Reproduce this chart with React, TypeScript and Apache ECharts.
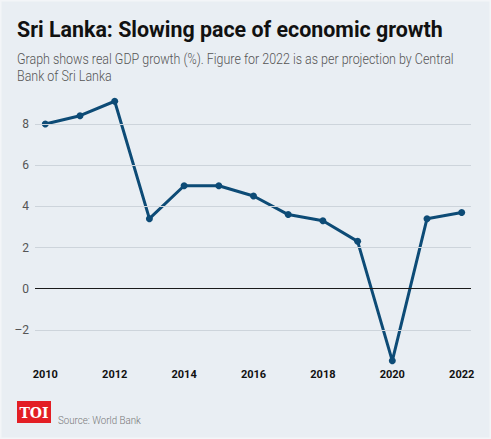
import React, { useEffect, useRef } from "react";
import * as echarts from "echarts";

const years = [2010, 2011, 2012, 2013, 2014, 2015, 2016, 2017, 2018, 2019, 2020, 2021, 2022];
const growth = [8.0, 8.4, 9.1, 3.4, 5.0, 5.0, 4.5, 3.6, 3.3, 2.3, -3.5, 3.4, 3.7];
const yTicks = [-2, 0, 2, 4, 6, 8];
const xTicks = [2010, 2012, 2014, 2016, 2018, 2020, 2022];

const TITLE = "Sri Lanka: Slowing pace of economic growth";
const SUB1 = "Graph shows real GDP growth (%). Figure for 2022 is as per projection by Central";
const SUB2 = "Bank of Sri Lanka";
const SOURCE = "Source: World Bank";

function measure(text: string, font: string): number {
  const c = document.createElement("canvas");
  const ctx = c.getContext("2d");
  if (!ctx) return 1;
  ctx.font = font;
  return ctx.measureText(text).width || 1;
}

export default function App() {
  const ref = useRef<HTMLDivElement>(null);
  useEffect(() => {
    if (!ref.current) return;
    const chart = echarts.init(ref.current, undefined, { renderer: "svg" });
    const titleFont = "bold 22px Roboto";
    const subFont = "300 15px Roboto";
    const srcFont = "300 11px Roboto";
    const titleScale = 426 / measure(TITLE, titleFont);
    const subScale = 437 / measure(SUB1, subFont);
    const srcScale = 83 / measure(SOURCE, srcFont);

    chart.setOption({
      animation: false,
      backgroundColor: "#e9eef3",
      grid: { left: 35, width: 436, top: 88.9, height: 278.1 },
      xAxis: {
        type: "value",
        min: 2009.703,
        max: 2022.268,
        axisLine: { show: false },
        axisTick: { show: false },
        splitLine: { show: false },
        axisLabel: {
          customValues: xTicks,
          formatter: (v: number) => String(v),
          color: "#111",
          fontWeight: "bold",
          fontSize: 11,
          fontFamily: "Roboto",
          margin: 2,
        },
      },
      yAxis: {
        type: "value",
        min: -3.8,
        max: 9.7,
        axisLine: { show: false },
        axisTick: { show: false },
        splitLine: { show: false },
        axisLabel: {
          customValues: yTicks,
          formatter: (v: number) => (v < 0 ? "\u2013" + Math.abs(v) : String(v)),
          color: "#555",
          fontSize: 12,
          fontFamily: "Roboto",
          margin: 6,
        },
      },
      series: [
        {
          type: "line",
          z: 1,
          data: [],
          silent: true,
          markLine: {
            silent: true,
            symbol: ["none", "none"],
            label: { show: false },
            data: yTicks.map((v) => ({
              yAxis: v,
              lineStyle: {
                color: v === 0 ? "#1a1a1a" : "#cdd4db",
                width: 1,
                type: "solid",
              },
            })),
          },
        },
        {
          type: "line",
          z: 3,
          data: years.map((y, i) => [y, growth[i]]),
          symbol: "circle",
          symbolSize: 7,
          lineStyle: { color: "#0d4b76", width: 3 },
          itemStyle: { color: "#0d4b76" },
        },
      ],
      graphic: [
        {
          type: "rect",
          shape: { x: 0, y: 0, width: 491, height: 439 },
          style: { fill: "none", stroke: "#f3f5f8", lineWidth: 3 },
          silent: true,
        },
        {
          type: "text",
          x: 17,
          y: 29.2,
          scaleX: titleScale,
          style: { text: TITLE, font: titleFont, fill: "#111", verticalAlign: "middle", align: "left" },
        },
        {
          type: "text",
          x: 17,
          y: 58.5,
          scaleX: subScale,
          style: { text: SUB1, font: subFont, fill: "#555", verticalAlign: "middle", align: "left" },
        },
        {
          type: "text",
          x: 17,
          y: 75.5,
          scaleX: subScale,
          style: { text: SUB2, font: subFont, fill: "#555", verticalAlign: "middle", align: "left" },
        },
        {
          type: "rect",
          shape: { x: 17, y: 401, width: 34, height: 22 },
          style: { fill: "#e31e24" },
        },
        {
          type: "text",
          x: 34,
          y: 412.5,
          style: {
            text: "TOI",
            font: "bold 14px 'DejaVu Serif'",
            fill: "#fff",
            verticalAlign: "middle",
            align: "center",
          },
        },
        {
          type: "text",
          x: 58,
          y: 420.5,
          scaleX: srcScale,
          style: { text: SOURCE, font: srcFont, fill: "#777", verticalAlign: "middle", align: "left" },
        },
      ],
    });
    return () => chart.dispose();
  }, []);
  return (
    <div
      ref={ref}
      style={{ position: "fixed", left: 0, top: 0, width: 491, height: 439 }}
    />
  );
}
